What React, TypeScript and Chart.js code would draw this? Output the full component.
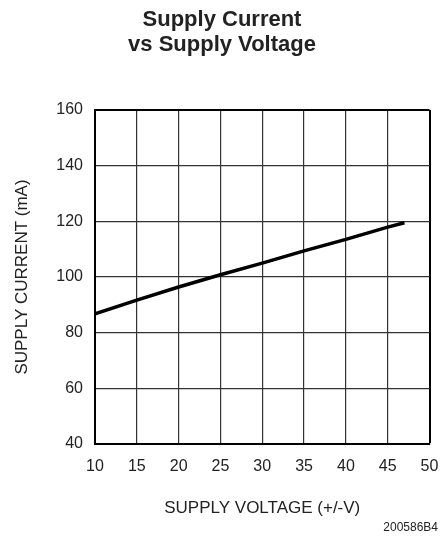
import React, { useEffect, useRef } from "react";
import { Chart, registerables } from "chart.js";

Chart.register(...registerables);

const voltages = [10, 15, 20, 25, 30, 35, 40, 45, 47];
const currents = [86.8, 91.7, 96.4, 100.8, 105.0, 109.4, 113.5, 117.9, 119.5];
const titleLines = ["Supply Current", "vs Supply Voltage"];
const xTitle = "SUPPLY VOLTAGE (+/-V)";
const yTitle = "SUPPLY CURRENT (mA)";
const footnote = "200586B4";
const X_MIN = 10;
const X_MAX = 50;
const Y_MIN = 40;
const Y_MAX = 160;

const FONT = "'Liberation Sans', Arial, Helvetica, sans-serif";

export default function App() {
  const ref = useRef<HTMLCanvasElement | null>(null);

  useEffect(() => {
    if (!ref.current) return;
    const footPlugin = {
      id: "footnote",
      afterDraw(chart: any) {
        const ctx = chart.ctx;
        ctx.save();
        ctx.font = `12px ${FONT}`;
        ctx.fillStyle = "#222";
        ctx.textAlign = "right";
        ctx.textBaseline = "middle";
        ctx.fillText(footnote, 438, 527.5);
        ctx.restore();
      },
    };
    const chart = new Chart(ref.current, {
      type: "line",
      data: {
        datasets: [
          {
            data: voltages.map((v, i) => ({ x: v, y: currents[i] })),
            borderColor: "#000",
            borderWidth: 3.5,
            pointRadius: 0,
            tension: 0,
            fill: false,
          },
        ],
      },
      options: {
        responsive: false,
        animation: false,
        layout: { padding: { left: 5.5, right: 3.5, top: 0, bottom: 0 } },
        plugins: {
          legend: { display: false },
          tooltip: { enabled: false },
          title: {
            display: true,
            text: titleLines,
            color: "#222",
            font: { family: FONT, size: 22, weight: "bold", lineHeight: 25 / 22 },
            padding: { top: 7, bottom: 53 },
          },
        },
        scales: {
          x: {
            type: "linear",
            min: X_MIN,
            max: X_MAX,
            ticks: {
              stepSize: 5,
              color: "#222",
              font: { family: FONT, size: 16 },
              padding: 13,
              maxRotation: 0,
            },
            grid: {
              color: (c: any) => (c.tick && c.tick.value === X_MAX ? "#000" : "#333"),
              lineWidth: (c: any) => (c.tick && c.tick.value === X_MAX ? 2 : 1.2),
              drawTicks: false,
            },
            border: { color: "#000", width: 2 },
            title: {
              display: true,
              text: xTitle,
              color: "#222",
              font: { family: FONT, size: 17 },
              padding: { top: 0, bottom: 22 },
            },
            afterFit(scale: any) {
              scale.height = 97;
              scale.paddingRight = 12.5;
              scale.paddingLeft = 0;
            },
          },
          y: {
            type: "linear",
            min: Y_MIN,
            max: Y_MAX,
            ticks: {
              stepSize: 20,
              color: "#222",
              font: { family: FONT, size: 16 },
              padding: 12,
            },
            grid: {
              color: (c: any) => (c.tick && c.tick.value === Y_MAX ? "#000" : "#333"),
              lineWidth: (c: any) => (c.tick && c.tick.value === Y_MAX ? 2 : 1.2),
              drawTicks: false,
            },
            border: { color: "#000", width: 2 },
            title: {
              display: true,
              text: yTitle,
              color: "#222",
              font: { family: FONT, size: 17 },
              padding: { top: 7, bottom: 0 },
            },
            afterFit(scale: any) {
              scale.width = 89.5;
            },
          },
        },
      },
      plugins: [footPlugin],
    });
    return () => chart.destroy();
  }, []);

  return (
    <div style={{ position: "absolute", left: 0, top: 0, width: 442, height: 541, background: "#fff" }}>
      <canvas ref={ref} width={442} height={541} style={{ width: 442, height: 541 }} />
    </div>
  );
}
